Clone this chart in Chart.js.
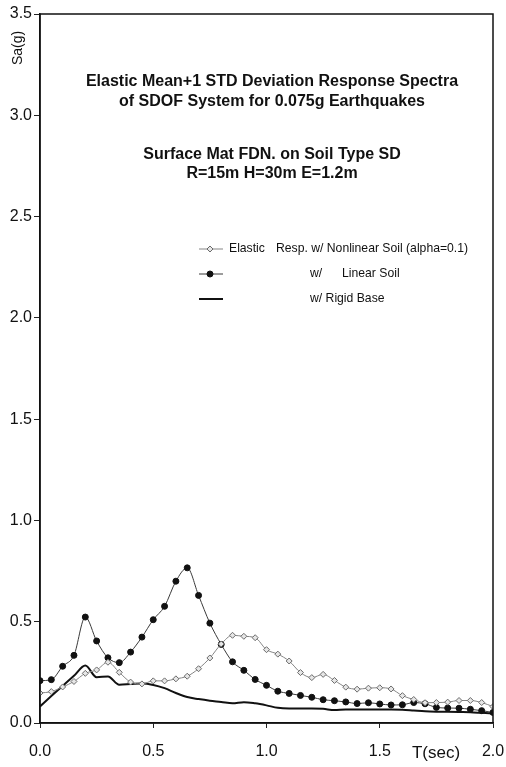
<!DOCTYPE html>
<html>
<head>
<meta charset="utf-8">
<script src="https://cdn.jsdelivr.net/npm/chart.js@4.4.0/dist/chart.umd.min.js"></script>
<style>
body { margin: 0; background: #fff; }
#wrap { width: 506px; height: 767px; }
</style>
</head>
<body>
<div id="wrap"><canvas id="myChart" width="506" height="767"></canvas></div>
<script>
// periodes T (sec)
var periods = [0.00, 0.05, 0.10, 0.15, 0.20, 0.25, 0.30, 0.35, 0.40, 0.45,
    0.50, 0.55, 0.60, 0.65, 0.70, 0.75, 0.80, 0.85, 0.90, 0.95,
    1.00, 1.05, 1.10, 1.15, 1.20, 1.25, 1.30, 1.35, 1.40, 1.45,
    1.50, 1.55, 1.60, 1.65, 1.70, 1.75, 1.80, 1.85, 1.90, 1.95, 2.00];

// Sa(g)
var nonlinearSoil = [0.148, 0.155, 0.178, 0.205, 0.245, 0.262, 0.300, 0.250, 0.202, 0.193,
    0.208, 0.208, 0.218, 0.231, 0.268, 0.321, 0.390, 0.433, 0.428, 0.421,
    0.362, 0.340, 0.306, 0.249, 0.224, 0.240, 0.210, 0.177, 0.167, 0.172,
    0.174, 0.168, 0.135, 0.116, 0.100, 0.101, 0.103, 0.111, 0.111, 0.101, 0.081];

var linearSoil = [0.209, 0.214, 0.280, 0.334, 0.523, 0.405, 0.322, 0.298, 0.350, 0.424,
    0.510, 0.576, 0.700, 0.766, 0.630, 0.493, 0.388, 0.302, 0.260, 0.215,
    0.186, 0.157, 0.146, 0.136, 0.127, 0.115, 0.110, 0.104, 0.096, 0.100,
    0.094, 0.089, 0.090, 0.101, 0.095, 0.077, 0.074, 0.073, 0.068, 0.061, 0.052];

var rigidBase = [0.082, 0.133, 0.183, 0.233, 0.284, 0.226, 0.230, 0.189, 0.192, 0.195,
    0.188, 0.172, 0.148, 0.128, 0.118, 0.110, 0.104, 0.097, 0.103, 0.097,
    0.087, 0.075, 0.072, 0.072, 0.072, 0.070, 0.064, 0.067, 0.067, 0.067,
    0.067, 0.067, 0.066, 0.062, 0.058, 0.056, 0.055, 0.054, 0.053, 0.050, 0.047];

var xTickLabels = ['0.0', '0.5', '1.0', '1.5', '2.0'];
var yTickLabels = ['0.0', '0.5', '1.0', '1.5', '2.0', '2.5', '3.0', '3.5'];

var titleLines = [
    'Elastic Mean+1 STD Deviation Response Spectra',
    'of SDOF System for 0.075g Earthquakes',
    'Surface Mat FDN. on Soil Type SD',
    'R=15m H=30m E=1.2m'
];

var FONT = '"Liberation Sans", Arial, sans-serif';

function toPoints(values) {
    return values.map(function(v, i) { return { x: periods[i], y: v }; });
}

function majorLabel(labels, value) {
    for (var i = 0; i < labels.length; i++) {
        if (Math.abs(parseFloat(labels[i]) - value) < 1e-6) return labels[i];
    }
    return null;
}

// cadre + textes (titre, legende, noms d'axes)
var decor = {
    id: 'decor',
    afterDraw: function(chart) {
        var ctx = chart.ctx;
        var a = chart.chartArea;
        ctx.save();
        ctx.strokeStyle = '#111';
        ctx.lineWidth = 1.5;
        ctx.strokeRect(a.left, a.top, a.right - a.left, a.bottom - a.top);

        ctx.fillStyle = '#111';
        ctx.textAlign = 'center';
        ctx.textBaseline = 'middle';
        ctx.font = 'bold 16px ' + FONT;
        var ys = [82, 102, 155, 174];
        titleLines.forEach(function(t, i) { ctx.fillText(t, 272, ys[i]); });

        // Sa(g)
        ctx.font = '14px ' + FONT;
        ctx.save();
        ctx.translate(18, 48);
        ctx.rotate(-Math.PI / 2);
        ctx.fillText('Sa(g)', 0, 0);
        ctx.restore();

        // T(sec)
        ctx.font = '17px ' + FONT;
        ctx.fillText('T(sec)', 436, 753);

        // legende
        var rows = [249, 274, 299];
        var ds = chart.data.datasets;
        ctx.textAlign = 'left';
        ctx.font = '12.2px ' + FONT;
        rows.forEach(function(y, i) {
            var d = ds[i];
            ctx.strokeStyle = d.borderColor;
            ctx.lineWidth = d.borderWidth;
            ctx.beginPath();
            ctx.moveTo(199, y);
            ctx.lineTo(223, y);
            ctx.stroke();
            if (d.pointRadius > 0) {
                ctx.fillStyle = d.pointBackgroundColor;
                ctx.strokeStyle = d.pointBorderColor;
                ctx.lineWidth = 1;
                Chart.helpers.drawPoint(ctx, { pointStyle: d.pointStyle, radius: d.pointRadius, rotation: 0, borderWidth: 1 }, 210, y);
            }
        });
        ctx.fillStyle = '#111';
        ctx.fillText('Elastic', 229, rows[0]);
        ctx.fillText('Resp. w/ Nonlinear Soil (alpha=0.1)', 276, rows[0]);
        ctx.fillText('w/', 310, rows[1]);
        ctx.fillText('Linear Soil', 342, rows[1]);
        ctx.fillText('w/ Rigid Base', 310, rows[2]);
        ctx.restore();
    }
};

var ctx = document.getElementById('myChart').getContext('2d');
var myChart = new Chart(ctx, {
    type: 'line',
    data: {
        datasets: [{
            label: 'Elastic Resp. w/ Nonlinear Soil (alpha=0.1)',
            data: toPoints(nonlinearSoil),
            borderColor: '#858585',
            borderWidth: 1,
            pointStyle: 'rectRot',
            pointRadius: 3,
            pointBackgroundColor: '#e6e6e6',
            pointBorderColor: '#6a6a6a',
            pointBorderWidth: 1,
            cubicInterpolationMode: 'monotone'
        }, {
            label: 'w/ Linear Soil',
            data: toPoints(linearSoil),
            borderColor: '#3a3a3a',
            borderWidth: 1,
            pointStyle: 'circle',
            pointRadius: 3,
            pointBackgroundColor: '#111',
            pointBorderColor: '#111',
            pointBorderWidth: 1,
            cubicInterpolationMode: 'monotone'
        }, {
            label: 'w/ Rigid Base',
            data: toPoints(rigidBase),
            borderColor: '#111',
            borderWidth: 2,
            pointRadius: 0,
            cubicInterpolationMode: 'monotone'
        }]
    },
    options: {
        responsive: false,
        animation: false,
        devicePixelRatio: 1,
        layout: { padding: { top: 14, right: 13, left: 0, bottom: 0 } },
        plugins: {
            legend: { display: false },
            tooltip: { enabled: false }
        },
        scales: {
            x: {
                type: 'linear',
                min: 0,
                max: 2,
                afterFit: function(s) {
                    s.height = 44;
                    s.paddingLeft = 0;
                    s.paddingRight = 0;
                },
                ticks: {
                    stepSize: 0.05,
                    autoSkip: false,
                    maxRotation: 0,
                    maxTicksLimit: 100,
                    padding: 14,
                    color: '#111',
                    font: { family: FONT, size: 16 },
                    callback: function(v) { return majorLabel(xTickLabels, v); }
                },
                grid: { drawOnChartArea: false, tickLength: 5, color: '#222' },
                border: { color: '#111', width: 1.5 }
            },
            y: {
                min: 0,
                max: 3.5,
                afterFit: function(s) {
                    s.width = 40;
                    s.paddingTop = 0;
                    s.paddingBottom = 0;
                },
                ticks: {
                    stepSize: 0.1,
                    autoSkip: false,
                    maxTicksLimit: 100,
                    padding: 2,
                    color: '#111',
                    font: { family: FONT, size: 16 },
                    callback: function(v) { return majorLabel(yTickLabels, v); }
                },
                grid: { drawOnChartArea: false, tickLength: 6, color: '#222' },
                border: { color: '#111', width: 1.5 }
            }
        }
    },
    plugins: [decor]
});
</script>
</body>
</html>
